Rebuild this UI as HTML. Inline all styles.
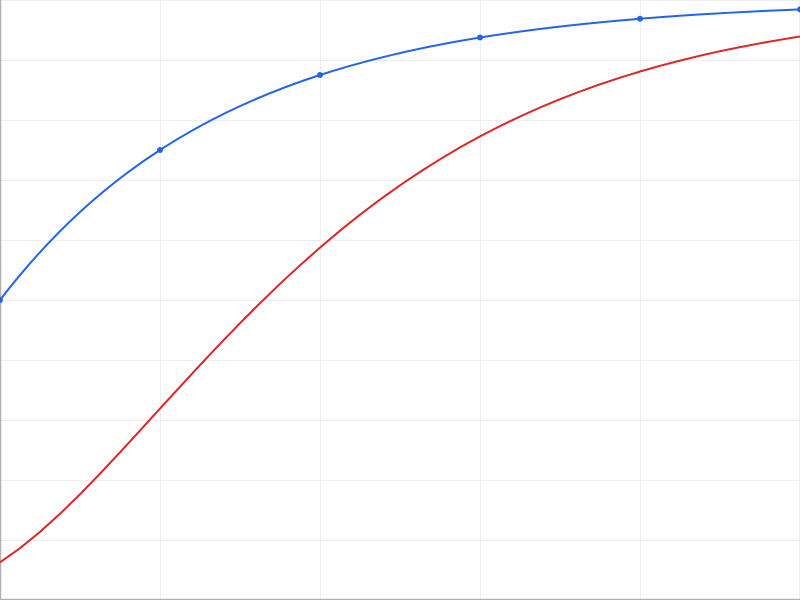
<!DOCTYPE html>
<html>
<head>
<meta charset="utf-8">
<style>
html,body{margin:0;padding:0;background:#fff;}
svg{display:block;}
</style>
</head>
<body>
<svg width="800" height="600" viewBox="0 0 800 600" xmlns="http://www.w3.org/2000/svg">
  <rect width="800" height="600" fill="#ffffff"/>
  <g stroke="#efefef" stroke-width="1">
    <line x1="0" y1="0.5" x2="800" y2="0.5"/>
    <line x1="0" y1="60.5" x2="800" y2="60.5"/>
    <line x1="0" y1="120.5" x2="800" y2="120.5"/>
    <line x1="0" y1="180.5" x2="800" y2="180.5"/>
    <line x1="0" y1="240.5" x2="800" y2="240.5"/>
    <line x1="0" y1="300.5" x2="800" y2="300.5"/>
    <line x1="0" y1="360.5" x2="800" y2="360.5"/>
    <line x1="0" y1="420.5" x2="800" y2="420.5"/>
    <line x1="0" y1="480.5" x2="800" y2="480.5"/>
    <line x1="0" y1="540.5" x2="800" y2="540.5"/>
    <line x1="160.5" y1="0" x2="160.5" y2="600"/>
    <line x1="320.5" y1="0" x2="320.5" y2="600"/>
    <line x1="480.5" y1="0" x2="480.5" y2="600"/>
    <line x1="640.5" y1="0" x2="640.5" y2="600"/>
    <line x1="799.5" y1="0" x2="799.5" y2="600"/>
  </g>
  <line x1="0.5" y1="0" x2="0.5" y2="600" stroke="#b0b0b0" stroke-width="1.5"/>
  <line x1="0" y1="599.5" x2="800" y2="599.5" stroke="#b0b0b0" stroke-width="1.5"/>

  <polyline fill="none" stroke="#dc2626" stroke-width="2" stroke-linejoin="round" points="0,562.3 20,548.2 40,531.9 60,513.8 80,494.3 100,473.7 120,452.3 140,430.6 160,408.6 180,386.8 200,365.1 220,343.9 240,323.2 260,303.2 280,283.8 300,265.3 320,247.6 340,230.7 360,214.7 380,199.6 400,185.3 420,171.9 440,159.3 460,147.4 480,136.4 500,126.1 520,116.5 540,107.5 560,99.2 580,91.5 600,84.3 620,77.7 640,71.5 660,65.8 680,60.6 700,55.7 720,51.2 740,47.1 760,43.3 780,39.8 800,36.5"/>

  <path fill="none" stroke="#2563eb" stroke-width="2" d="M0,300 C53.33,230.7 106.67,184.65 160,150 C213.33,115.35 266.67,92.33 320,75 C373.33,57.68 426.67,46.16 480,37.5 C533.33,28.84 586.67,23.08 640,18.75 C693.33,14.42 746.67,11.54 800,9.375"/>
  <g fill="#2563eb">
    <circle cx="0" cy="300" r="3"/>
    <circle cx="160" cy="150" r="3"/>
    <circle cx="320" cy="75" r="3"/>
    <circle cx="480" cy="37.5" r="3"/>
    <circle cx="640" cy="18.75" r="3"/>
    <circle cx="800" cy="9.375" r="3"/>
  </g>
</svg>
</body>
</html>
